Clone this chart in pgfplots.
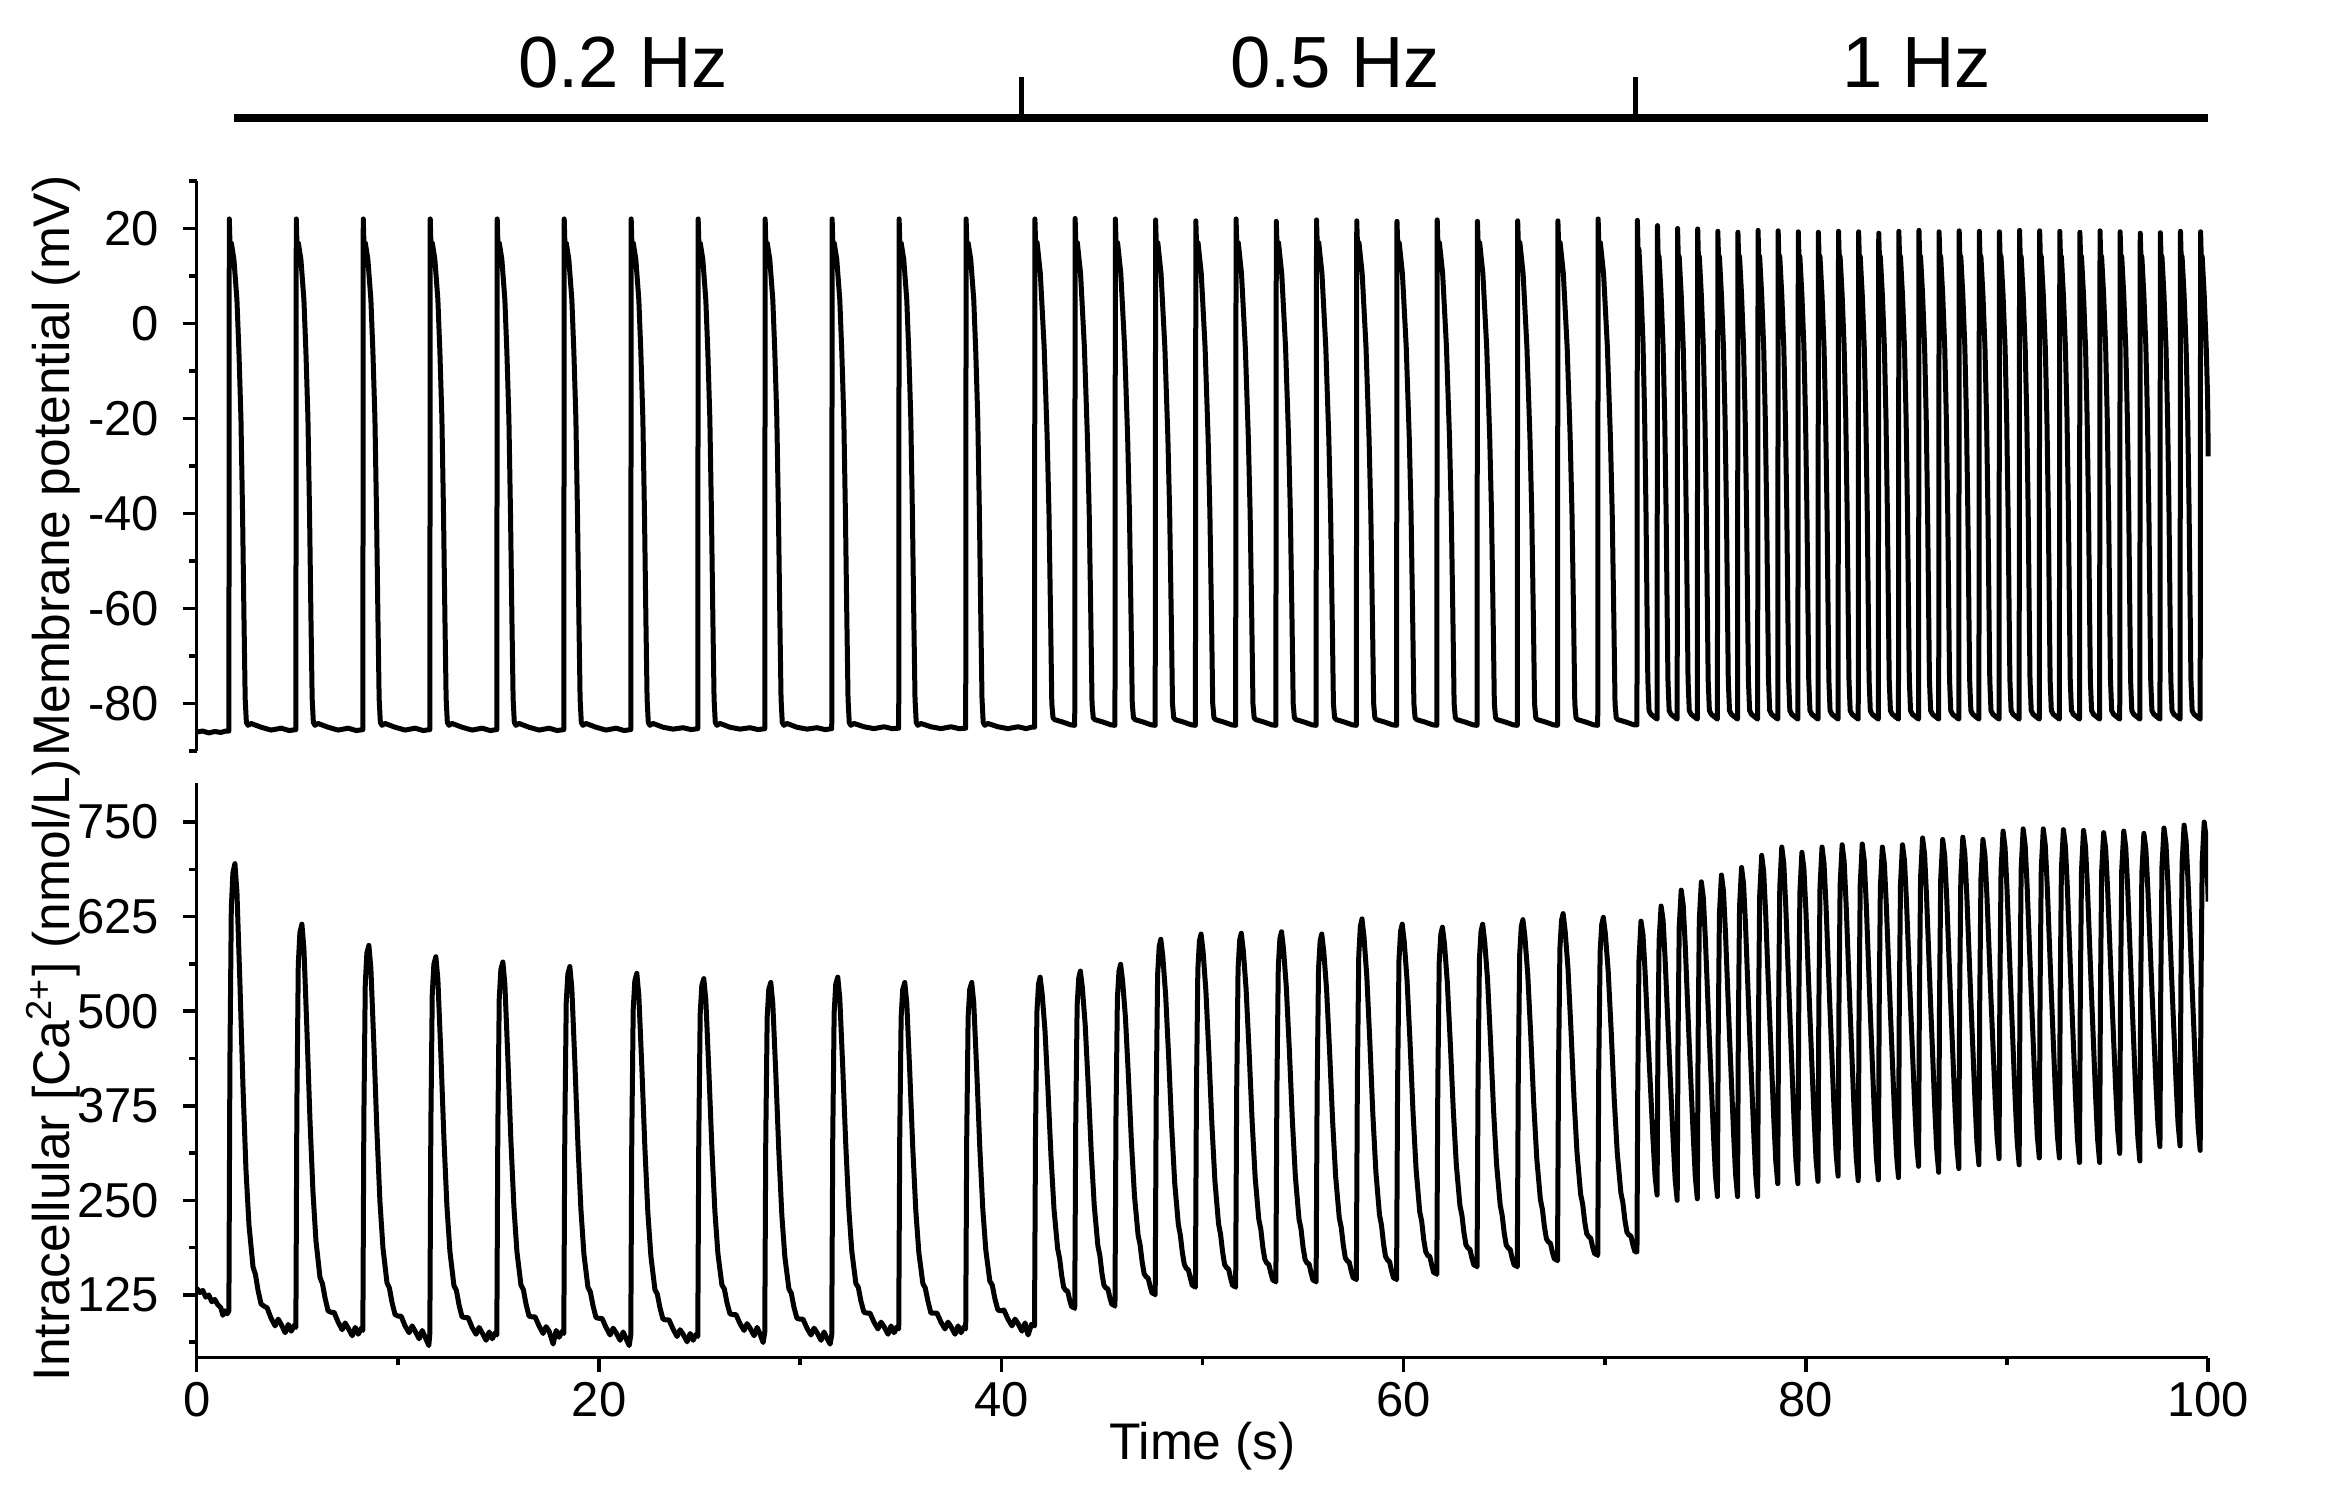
\documentclass[border=0pt]{standalone}
\usepackage{fontspec}
\setmainfont{Liberation Sans}
\usepackage{pgfplots}
\pgfplotsset{compat=1.18}
\begin{document}
\begin{tikzpicture}
\useasboundingbox (-39.34pt,-29.86pt) rectangle (430.46pt,271.54pt);
\pgfplotsset{
  myaxis/.style={
    scale only axis, width=402.3pt, xmin=0, xmax=100,
    axis y line*=left,
    tick align=outside, major tick length=2.8pt, minor tick length=1.5pt,
    tick style={black, line width=0.7pt},
    axis line style={line width=0.7pt, black},
    ticklabel style={font=\fontsize{9.8}{11}\selectfont},
    /pgf/number format/assume math mode=true,
    label style={font=\fontsize{10.3}{12}\selectfont},
    ylabel style={at={(axis description cs:-0.063,0.5)}, anchor=base},
    yticklabel style={inner sep=0pt, anchor=east, xshift=-4.5pt},
  }
}
% ---------------- bottom: calcium ----------------
\begin{axis}[myaxis, name=bot, at={(0,0)}, anchor=south west, height=115pt,
  ymin=42, ymax=802,
  axis x line*=bottom,
  xtick={0,20,...,100}, minor xtick={10,30,...,90},
  ytick={125,250,375,500,625,750}, minor ytick={62.5,187.5,312.5,437.5,562.5,687.5},
  xticklabel style={inner sep=0pt, anchor=north, yshift=-1.86pt},
  xlabel={Time (s)},
  xlabel style={at={(axis description cs:0.5,-0.1765)}, anchor=base},
  ylabel={Intracellular [Ca\textsuperscript{2+}] (nmol/L)},
]
\addplot[black, line width=1pt, line join=round] coordinates {
(0,134) (0.15,128) (0.3,131) (0.45,122) (0.6,125) (0.75,116) (0.9,119) (1.05,112) (1.2,108) (1.3,98) (1.4,104) (1.52,100)
(1.60,104) (1.65,430) (1.72,636) (1.80,683) (1.90,695) (2.00,658) (2.15,536) (2.30,401) (2.45,290) (2.60,217) (2.80,162) (2.92,152) (3.05,131) (3.20,113) (3.35,110) (3.50,108) (3.70,94) (3.90,84) (4.05,93) (4.20,86) (4.40,75) (4.55,86) (4.70,77) (4.85,85)
(4.93,82) (4.98,375) (5.05,562) (5.13,604) (5.23,615) (5.33,583) (5.48,475) (5.63,357) (5.78,261) (5.93,196) (6.13,148) (6.25,140) (6.38,121) (6.53,104) (6.68,102) (6.83,102) (7.03,89) (7.23,79) (7.38,88) (7.53,81) (7.73,71) (7.88,82) (8.03,73) (8.18,81)
(8.26,78) (8.31,358) (8.38,536) (8.46,577) (8.56,587) (8.66,556) (8.81,454) (8.96,341) (9.11,248) (9.26,187) (9.46,141) (9.58,134) (9.71,115) (9.86,99) (10.01,97) (10.16,97) (10.36,84) (10.56,75) (10.71,84) (10.86,77) (11.06,67) (11.21,78) (11.36,69) (11.54,58)
(11.59,74) (11.64,348) (11.71,522) (11.79,562) (11.89,572) (11.99,542) (12.14,442) (12.29,332) (12.44,242) (12.59,182) (12.79,137) (12.91,131) (13.04,112) (13.19,96) (13.34,95) (13.49,95) (13.69,82) (13.89,73) (14.04,82) (14.19,75) (14.39,65) (14.54,76) (14.69,67) (14.84,75)
(14.92,72) (14.97,343) (15.04,516) (15.12,555) (15.22,565) (15.32,536) (15.47,437) (15.62,329) (15.77,241) (15.92,182) (16.12,138) (16.24,132) (16.37,113) (16.52,97) (16.67,96) (16.82,96) (17.02,84) (17.22,74) (17.37,83) (17.52,77) (17.72,60) (17.87,78) (18.02,69) (18.17,77)
(18.25,74) (18.30,341) (18.37,511) (18.45,549) (18.55,559) (18.65,530) (18.80,432) (18.95,325) (19.10,238) (19.25,179) (19.45,135) (19.57,129) (19.70,111) (19.85,95) (20.00,94) (20.15,94) (20.35,82) (20.55,72) (20.70,81) (20.85,75) (21.05,65) (21.20,76) (21.35,67) (21.50,58)
(21.58,72) (21.63,335) (21.70,502) (21.78,540) (21.88,550) (21.98,521) (22.13,425) (22.28,320) (22.43,233) (22.58,176) (22.78,132) (22.90,126) (23.03,108) (23.18,93) (23.33,92) (23.48,92) (23.68,80) (23.88,70) (24.03,79) (24.18,73) (24.38,63) (24.53,74) (24.68,65) (24.83,73)
(24.91,70) (24.96,330) (25.03,496) (25.11,534) (25.21,543) (25.31,515) (25.46,422) (25.61,320) (25.76,236) (25.91,180) (26.11,138) (26.23,133) (26.36,115) (26.51,100) (26.66,99) (26.81,99) (27.01,87) (27.21,78) (27.36,87) (27.51,81) (27.71,71) (27.86,82) (28.01,73) (28.16,62)
(28.24,76) (28.29,330) (28.36,492) (28.44,529) (28.54,538) (28.64,510) (28.79,417) (28.94,314) (29.09,230) (29.24,175) (29.44,133) (29.56,127) (29.69,109) (29.84,94) (29.99,93) (30.14,93) (30.34,81) (30.54,72) (30.69,81) (30.84,75) (31.04,65) (31.19,76) (31.34,67) (31.49,60)
(31.57,72) (31.62,332) (31.69,498) (31.77,536) (31.87,545) (31.97,517) (32.12,424) (32.27,322) (32.42,238) (32.57,182) (32.77,140) (32.89,135) (33.02,117) (33.17,102) (33.32,101) (33.47,101) (33.67,89) (33.87,80) (34.02,89) (34.17,83) (34.37,73) (34.52,84) (34.67,75) (34.82,83)
(34.90,80) (34.95,332) (35.02,492) (35.10,529) (35.20,538) (35.30,511) (35.45,419) (35.60,318) (35.75,236) (35.90,181) (36.10,140) (36.22,134) (36.35,117) (36.50,101) (36.65,101) (36.80,101) (37.00,89) (37.20,80) (37.35,89) (37.50,83) (37.70,73) (37.85,84) (38.00,75) (38.15,83)
(38.23,80) (38.28,332) (38.35,492) (38.43,529) (38.53,538) (38.63,511) (38.78,420) (38.93,320) (39.08,238) (39.23,184) (39.43,143) (39.55,138) (39.68,120) (39.83,105) (39.98,104) (40.13,105) (40.33,93) (40.53,84) (40.68,93) (40.83,87) (41.03,77) (41.18,88) (41.33,72) (41.50,86)
(41.65,84) (41.70,338) (41.77,499) (41.85,536) (41.93,545) (42.03,523) (42.17,475) (42.32,396) (42.47,308) (42.62,238) (42.80,186) (42.90,173) (43.00,151) (43.10,135) (43.20,131) (43.30,130) (43.40,118) (43.50,109) (43.60,109)
(43.65,107) (43.70,352) (43.77,508) (43.85,544) (43.93,553) (44.03,531) (44.17,482) (44.32,402) (44.47,314) (44.62,243) (44.80,190) (44.90,177) (45.00,154) (45.10,138) (45.20,134) (45.30,133) (45.40,121) (45.50,112) (45.60,112)
(45.65,110) (45.70,359) (45.77,517) (45.85,553) (45.93,562) (46.03,540) (46.17,492) (46.32,413) (46.47,326) (46.62,256) (46.80,204) (46.90,191) (47.00,169) (47.10,153) (47.20,149) (47.30,147) (47.40,136) (47.50,127) (47.60,127)
(47.65,125) (47.70,384) (47.77,548) (47.85,586) (47.93,595) (48.03,572) (48.17,521) (48.32,439) (48.47,347) (48.62,273) (48.80,218) (48.90,204) (49.00,181) (49.10,165) (49.20,160) (49.30,158) (49.40,147) (49.50,137) (49.60,137)
(49.65,135) (49.70,392) (49.77,555) (49.85,593) (49.93,602) (50.03,579) (50.17,527) (50.32,443) (50.47,350) (50.62,275) (50.80,219) (50.90,205) (51.00,182) (51.10,165) (51.20,161) (51.30,159) (51.40,147) (51.50,137) (51.60,137)
(51.65,135) (51.70,392) (51.77,556) (51.85,594) (51.93,603) (52.03,580) (52.17,529) (52.32,446) (52.47,354) (52.62,280) (52.80,225) (52.90,212) (53.00,188) (53.10,172) (53.20,167) (53.30,165) (53.40,154) (53.50,144) (53.60,144)
(53.65,142) (53.70,397) (53.77,559) (53.85,596) (53.93,605) (54.03,582) (54.17,531) (54.32,448) (54.47,355) (54.62,281) (54.80,225) (54.90,212) (55.00,188) (55.10,172) (55.20,167) (55.30,166) (55.40,154) (55.50,144) (55.60,144)
(55.65,142) (55.70,395) (55.77,556) (55.85,593) (55.93,602) (56.03,579) (56.17,529) (56.32,447) (56.47,355) (56.62,282) (56.80,227) (56.90,214) (57.00,191) (57.10,174) (57.20,170) (57.30,168) (57.40,156) (57.50,147) (57.60,147)
(57.65,145) (57.70,407) (57.77,574) (57.85,612) (57.93,622) (58.03,598) (58.17,546) (58.32,460) (58.47,364) (58.62,288) (58.80,231) (58.90,217) (59.00,193) (59.10,176) (59.20,171) (59.30,169) (59.40,157) (59.50,147) (59.60,147)
(59.65,145) (59.70,404) (59.77,568) (59.85,606) (59.93,615) (60.03,592) (60.17,541) (60.32,458) (60.47,365) (60.62,291) (60.80,235) (60.90,222) (61.00,198) (61.10,182) (61.20,177) (61.30,176) (61.40,164) (61.50,154) (61.60,154)
(61.65,152) (61.70,404) (61.77,565) (61.85,602) (61.93,611) (62.03,589) (62.17,539) (62.32,458) (62.47,369) (62.62,297) (62.80,243) (62.90,230) (63.00,207) (63.10,191) (63.20,187) (63.30,185) (63.40,173) (63.50,164) (63.60,164)
(63.65,162) (63.70,411) (63.77,570) (63.85,606) (63.93,615) (64.03,592) (64.17,543) (64.32,461) (64.47,370) (64.62,298) (64.80,244) (64.90,230) (65.00,207) (65.10,191) (65.20,187) (65.30,185) (65.40,173) (65.50,164) (65.60,164)
(65.65,162) (65.70,414) (65.77,575) (65.85,612) (65.93,621) (66.03,598) (66.17,549) (66.32,468) (66.47,377) (66.62,305) (66.80,251) (66.90,238) (67.00,215) (67.10,199) (67.20,195) (67.30,193) (67.40,181) (67.50,172) (67.60,172)
(67.65,170) (67.70,422) (67.77,583) (67.85,620) (67.93,629) (68.03,606) (68.17,557) (68.32,475) (68.47,385) (68.62,313) (68.80,258) (68.90,245) (69.00,222) (69.10,206) (69.20,202) (69.30,200) (69.40,188) (69.50,179) (69.60,179)
(69.65,177) (69.70,423) (69.77,579) (69.85,615) (69.93,624) (70.03,602) (70.17,553) (70.32,473) (70.47,384) (70.62,313) (70.80,260) (70.90,247) (71.00,224) (71.10,208) (71.20,204) (71.30,203) (71.40,191) (71.50,182) (71.55,182)
(71.60,182) (71.64,401) (71.70,567) (71.80,619) (71.90,601) (72.00,554) (72.10,496) (72.20,438) (72.30,384) (72.40,329) (72.50,282)
(72.60,257) (72.64,448) (72.70,593) (72.80,639) (72.90,620) (73.00,569) (73.10,507) (73.20,445) (73.30,386) (73.40,328) (73.50,277)
(73.60,250) (73.64,455) (73.70,611) (73.80,660) (73.90,640) (74.00,587) (74.10,521) (74.20,456) (74.30,395) (74.40,334) (74.50,281)
(74.60,252) (74.64,462) (74.70,621) (74.80,671) (74.90,650) (75.00,596) (75.10,530) (75.20,463) (75.30,401) (75.40,338) (75.50,284)
(75.60,255) (75.64,468) (75.70,629) (75.80,680) (75.90,659) (76.00,604) (76.10,536) (76.20,468) (76.30,404) (76.40,340) (76.50,285)
(76.60,255) (76.64,473) (76.70,638) (76.80,690) (76.90,668) (77.00,612) (77.10,542) (77.20,473) (77.30,407) (77.40,342) (77.50,285)
(77.60,255) (77.64,481) (77.70,652) (77.80,706) (77.90,684) (78.00,628) (78.10,558) (78.20,489) (78.30,424) (78.40,359) (78.50,302)
(78.60,272) (78.64,495) (78.70,664) (78.80,717) (78.90,695) (79.00,637) (79.10,566) (79.20,495) (79.30,428) (79.40,361) (79.50,303)
(79.60,272) (79.64,491) (79.70,657) (79.80,710) (79.90,688) (80.00,632) (80.10,562) (80.20,493) (80.30,427) (80.40,362) (80.50,305)
(80.60,275) (80.64,496) (80.70,664) (80.80,717) (80.90,695) (81.00,639) (81.10,569) (81.20,500) (81.30,434) (81.40,369) (81.50,312)
(81.60,282) (81.64,501) (81.70,667) (81.80,720) (81.90,698) (82.00,640) (82.10,569) (82.20,498) (82.30,431) (82.40,365) (82.50,307)
(82.60,276) (82.64,499) (82.70,668) (82.80,721) (82.90,699) (83.00,641) (83.10,570) (83.20,499) (83.30,432) (83.40,366) (83.50,308)
(83.60,277) (83.64,497) (83.70,664) (83.80,717) (83.90,695) (84.00,638) (84.10,568) (84.20,499) (84.30,433) (84.40,367) (84.50,311)
(84.60,280) (84.64,500) (84.70,667) (84.80,720) (84.90,699) (85.00,644) (85.10,576) (85.20,508) (85.30,444) (85.40,380) (85.50,325)
(85.60,295) (85.64,512) (85.70,677) (85.80,729) (85.90,707) (86.00,649) (86.10,579) (86.20,508) (86.30,442) (86.40,375) (86.50,318)
(86.60,287) (86.64,507) (86.70,674) (86.80,727) (86.90,705) (87.00,649) (87.10,579) (87.20,510) (87.30,444) (87.40,379) (87.50,322)
(87.60,292) (87.64,511) (87.70,677) (87.80,730) (87.90,708) (88.00,652) (88.10,583) (88.20,514) (88.30,449) (88.40,384) (88.50,327)
(88.60,297) (88.64,512) (88.70,675) (88.80,727) (88.90,706) (89.00,651) (89.10,584) (89.20,516) (89.30,453) (89.40,389) (89.50,335)
(89.60,305) (89.64,522) (89.70,686) (89.80,738) (89.90,716) (90.00,659) (90.10,588) (90.20,518) (90.30,451) (90.40,385) (90.50,328)
(90.60,297) (90.64,519) (90.70,688) (90.80,741) (90.90,719) (91.00,663) (91.10,593) (91.20,524) (91.30,458) (91.40,393) (91.50,336)
(91.60,306) (91.64,524) (91.70,689) (91.80,741) (91.90,719) (92.00,663) (92.10,593) (92.20,524) (92.30,458) (92.40,393) (92.50,336)
(92.60,306) (92.64,523) (92.70,688) (92.80,740) (92.90,718) (93.00,661) (93.10,590) (93.20,520) (93.30,454) (93.40,388) (93.50,331)
(93.60,300) (93.64,520) (93.70,686) (93.80,739) (93.90,717) (94.00,660) (94.10,590) (94.20,520) (94.30,454) (94.40,388) (94.50,331)
(94.60,300) (94.64,518) (94.70,684) (94.80,736) (94.90,715) (95.00,660) (95.10,592) (95.20,524) (95.30,460) (95.40,397) (95.50,342)
(95.60,312) (95.64,525) (95.70,687) (95.80,738) (95.90,716) (96.00,660) (96.10,590) (96.20,520) (96.30,455) (96.40,389) (96.50,333)
(96.60,302) (96.64,519) (96.70,683) (96.80,735) (96.90,714) (97.00,660) (97.10,594) (97.20,528) (97.30,466) (97.40,404) (97.50,350)
(97.60,321) (97.64,532) (97.70,691) (97.80,742) (97.90,721) (98.00,666) (98.10,599) (98.20,532) (98.30,469) (98.40,406) (98.50,351)
(98.60,322) (98.64,534) (98.70,695) (98.80,746) (98.90,725) (99.00,669) (99.10,600) (99.20,531) (99.30,467) (99.40,402) (99.50,346)
(99.60,316) (99.64,533) (99.70,698) (99.80,750) (99.90,728) (100.00,645)
};
\end{axis}
% ---------------- top: membrane potential ----------------
\begin{axis}[myaxis, name=top, at={(0,121.34pt)}, anchor=south west, height=114pt,
  ymin=-90, ymax=30, clip=false,
  axis x line=none,
  ytick={-80,-60,-40,-20,0,20}, minor ytick={-90,-70,-50,-30,-10,10,30},
  ylabel={Membrane potential (mV)},
]
\addplot[black, line width=1pt, line join=round] coordinates {
(0,-86) (0.3,-85.8) (0.6,-86.2) (0.9,-85.9) (1.2,-86.1) (1.45,-85.8)
(1.60,-85.8) (1.62,22) (1.66,16) (1.72,17) (1.85,13.5) (2.00,5) (2.10,-6) (2.20,-20) (2.28,-40) (2.35,-62) (2.41,-79) (2.47,-84) (2.55,-84.6) (2.70,-84.2) (3.20,-85) (3.70,-85.6) (4.20,-85.2) (4.60,-85.7)
(4.93,-85.5) (4.95,22) (4.99,16) (5.05,17) (5.18,13.5) (5.33,5) (5.43,-6) (5.53,-20) (5.61,-40) (5.68,-62) (5.74,-79) (5.80,-84) (5.88,-84.6) (6.03,-84.2) (6.53,-85) (7.03,-85.6) (7.53,-85.2) (7.93,-85.7)
(8.26,-85.5) (8.28,22) (8.32,16) (8.38,17) (8.51,13.5) (8.66,5) (8.76,-6) (8.86,-20) (8.94,-40) (9.01,-62) (9.07,-79) (9.13,-84) (9.21,-84.6) (9.36,-84.2) (9.86,-85) (10.36,-85.6) (10.86,-85.2) (11.26,-85.7)
(11.59,-85.5) (11.61,22) (11.65,16) (11.71,17) (11.84,13.5) (11.99,5) (12.09,-6) (12.19,-20) (12.27,-40) (12.34,-62) (12.40,-79) (12.46,-84) (12.54,-84.6) (12.69,-84.2) (13.19,-85) (13.69,-85.6) (14.19,-85.2) (14.59,-85.7)
(14.92,-85.5) (14.94,22) (14.98,16) (15.04,17) (15.17,13.5) (15.32,5) (15.42,-6) (15.52,-20) (15.60,-40) (15.67,-62) (15.73,-79) (15.79,-84) (15.87,-84.6) (16.02,-84.2) (16.52,-85) (17.02,-85.6) (17.52,-85.2) (17.92,-85.7)
(18.25,-85.5) (18.27,22) (18.31,16) (18.37,17) (18.50,13.5) (18.65,5) (18.75,-6) (18.85,-20) (18.93,-40) (19.00,-62) (19.06,-79) (19.12,-84) (19.20,-84.6) (19.35,-84.2) (19.85,-85) (20.35,-85.6) (20.85,-85.2) (21.25,-85.7)
(21.58,-85.5) (21.60,22) (21.64,16) (21.70,17) (21.83,13.5) (21.98,5) (22.08,-6) (22.18,-20) (22.26,-40) (22.33,-62) (22.39,-79) (22.45,-84) (22.53,-84.6) (22.68,-84.2) (23.18,-85) (23.68,-85.4) (24.18,-85.1) (24.58,-85.5)
(24.91,-85.3) (24.93,22) (24.97,16) (25.03,17) (25.16,13.5) (25.31,5) (25.41,-6) (25.51,-20) (25.59,-40) (25.66,-62) (25.72,-79) (25.78,-84) (25.86,-84.6) (26.01,-84.2) (26.51,-85) (27.01,-85.4) (27.51,-85.1) (27.91,-85.5)
(28.24,-85.3) (28.26,22) (28.30,16) (28.36,17) (28.49,13.5) (28.64,5) (28.74,-6) (28.84,-20) (28.92,-40) (28.99,-62) (29.05,-79) (29.11,-84) (29.19,-84.6) (29.34,-84.2) (29.84,-85) (30.34,-85.4) (30.84,-85.1) (31.24,-85.5)
(31.57,-85.3) (31.59,22) (31.63,16) (31.69,17) (31.82,13.5) (31.97,5) (32.07,-6) (32.17,-20) (32.25,-40) (32.32,-62) (32.38,-79) (32.44,-84) (32.52,-84.6) (32.67,-84.2) (33.17,-84.9) (33.67,-85.3) (34.17,-84.9) (34.57,-85.3)
(34.90,-85.2) (34.92,22) (34.96,16) (35.02,17) (35.15,13.5) (35.30,5) (35.40,-6) (35.50,-20) (35.58,-40) (35.65,-62) (35.71,-79) (35.77,-84) (35.85,-84.6) (36.00,-84.2) (36.50,-84.9) (37.00,-85.3) (37.50,-84.9) (37.90,-85.3)
(38.23,-85.2) (38.25,22) (38.29,16) (38.35,17) (38.48,13.5) (38.63,5) (38.73,-6) (38.83,-20) (38.91,-40) (38.98,-62) (39.04,-79) (39.10,-84) (39.18,-84.6) (39.33,-84.2) (39.83,-84.9) (40.33,-85.3) (40.83,-84.9) (41.23,-85.3) (41.50,-85.0)
(41.65,-85.0) (41.67,22.0) (41.71,16) (41.78,17) (41.94,10.5) (42.13,-5) (42.28,-24) (42.37,-40) (42.45,-62) (42.51,-80) (42.57,-83) (42.65,-83.4) (43.05,-83.9) (43.45,-84.5)
(43.65,-84.6) (43.67,22.1) (43.71,16) (43.78,17) (43.94,10.5) (44.13,-5) (44.28,-24) (44.37,-40) (44.45,-62) (44.51,-80) (44.57,-83) (44.65,-83.4) (45.05,-83.9) (45.45,-84.5)
(45.65,-84.6) (45.67,22.0) (45.71,16) (45.78,17) (45.94,10.5) (46.13,-5) (46.28,-24) (46.37,-40) (46.45,-62) (46.51,-80) (46.57,-83) (46.65,-83.4) (47.05,-83.9) (47.45,-84.5)
(47.65,-84.6) (47.67,21.8) (47.71,16) (47.78,17) (47.94,10.5) (48.13,-5) (48.28,-24) (48.37,-40) (48.45,-62) (48.51,-80) (48.57,-83) (48.65,-83.4) (49.05,-83.9) (49.45,-84.5)
(49.65,-84.6) (49.67,21.6) (49.71,16) (49.78,17) (49.94,10.5) (50.13,-5) (50.28,-24) (50.37,-40) (50.45,-62) (50.51,-80) (50.57,-83) (50.65,-83.4) (51.05,-83.9) (51.45,-84.5)
(51.65,-84.6) (51.67,22.0) (51.71,16) (51.78,17) (51.94,10.5) (52.13,-5) (52.28,-24) (52.37,-40) (52.45,-62) (52.51,-80) (52.57,-83) (52.65,-83.4) (53.05,-83.9) (53.45,-84.5)
(53.65,-84.6) (53.67,21.5) (53.71,16) (53.78,17) (53.94,10.5) (54.13,-5) (54.28,-24) (54.37,-40) (54.45,-62) (54.51,-80) (54.57,-83) (54.65,-83.4) (55.05,-83.9) (55.45,-84.5)
(55.65,-84.6) (55.67,21.8) (55.71,16) (55.78,17) (55.94,10.5) (56.13,-5) (56.28,-24) (56.37,-40) (56.45,-62) (56.51,-80) (56.57,-83) (56.65,-83.4) (57.05,-83.9) (57.45,-84.5)
(57.65,-84.6) (57.67,21.6) (57.71,16) (57.78,17) (57.94,10.5) (58.13,-5) (58.28,-24) (58.37,-40) (58.45,-62) (58.51,-80) (58.57,-83) (58.65,-83.4) (59.05,-83.9) (59.45,-84.5)
(59.65,-84.6) (59.67,21.5) (59.71,16) (59.78,17) (59.94,10.5) (60.13,-5) (60.28,-24) (60.37,-40) (60.45,-62) (60.51,-80) (60.57,-83) (60.65,-83.4) (61.05,-83.9) (61.45,-84.5)
(61.65,-84.6) (61.67,21.8) (61.71,16) (61.78,17) (61.94,10.5) (62.13,-5) (62.28,-24) (62.37,-40) (62.45,-62) (62.51,-80) (62.57,-83) (62.65,-83.4) (63.05,-83.9) (63.45,-84.5)
(63.65,-84.6) (63.67,21.5) (63.71,16) (63.78,17) (63.94,10.5) (64.13,-5) (64.28,-24) (64.37,-40) (64.45,-62) (64.51,-80) (64.57,-83) (64.65,-83.4) (65.05,-83.9) (65.45,-84.5)
(65.65,-84.6) (65.67,21.6) (65.71,16) (65.78,17) (65.94,10.5) (66.13,-5) (66.28,-24) (66.37,-40) (66.45,-62) (66.51,-80) (66.57,-83) (66.65,-83.4) (67.05,-83.9) (67.45,-84.5)
(67.65,-84.6) (67.67,21.6) (67.71,16) (67.78,17) (67.94,10.5) (68.13,-5) (68.28,-24) (68.37,-40) (68.45,-62) (68.51,-80) (68.57,-83) (68.65,-83.4) (69.05,-83.9) (69.45,-84.5)
(69.65,-84.6) (69.67,22.0) (69.71,16) (69.78,17) (69.94,10.5) (70.13,-5) (70.28,-24) (70.37,-40) (70.45,-62) (70.51,-80) (70.57,-83) (70.65,-83.4) (71.05,-83.9) (71.45,-84.5)
(71.60,-84.5) (71.62,21.7) (71.65,16) (71.70,15.5) (71.80,7) (71.90,-4) (71.98,-19) (72.05,-40) (72.10,-60) (72.14,-75) (72.20,-81.5) (72.30,-82.3) (72.45,-82.8)
(72.60,-83.3) (72.62,20.6) (72.65,14.5) (72.70,14) (72.80,6) (72.90,-5) (72.98,-20) (73.05,-40) (73.10,-60) (73.14,-75) (73.20,-81.5) (73.30,-82.3) (73.45,-82.8)
(73.60,-83.3) (73.62,20.0) (73.65,14.5) (73.70,14) (73.80,6) (73.90,-5) (73.98,-20) (74.05,-40) (74.10,-60) (74.14,-75) (74.20,-81.5) (74.30,-82.3) (74.45,-82.8)
(74.60,-83.3) (74.62,19.9) (74.65,14.5) (74.70,14) (74.80,6) (74.90,-5) (74.98,-20) (75.05,-40) (75.10,-60) (75.14,-75) (75.20,-81.5) (75.30,-82.3) (75.45,-82.8)
(75.60,-83.3) (75.62,19.4) (75.65,14.5) (75.70,14) (75.80,6) (75.90,-5) (75.98,-20) (76.05,-40) (76.10,-60) (76.14,-75) (76.20,-81.5) (76.30,-82.3) (76.45,-82.8)
(76.60,-83.3) (76.62,19.2) (76.65,14.5) (76.70,14) (76.80,6) (76.90,-5) (76.98,-20) (77.05,-40) (77.10,-60) (77.14,-75) (77.20,-81.5) (77.30,-82.3) (77.45,-82.8)
(77.60,-83.3) (77.62,19.6) (77.65,14.5) (77.70,14) (77.80,6) (77.90,-5) (77.98,-20) (78.05,-40) (78.10,-60) (78.14,-75) (78.20,-81.5) (78.30,-82.3) (78.45,-82.8)
(78.60,-83.3) (78.62,19.5) (78.65,14.5) (78.70,14) (78.80,6) (78.90,-5) (78.98,-20) (79.05,-40) (79.10,-60) (79.14,-75) (79.20,-81.5) (79.30,-82.3) (79.45,-82.8)
(79.60,-83.3) (79.62,19.3) (79.65,14.5) (79.70,14) (79.80,6) (79.90,-5) (79.98,-20) (80.05,-40) (80.10,-60) (80.14,-75) (80.20,-81.5) (80.30,-82.3) (80.45,-82.8)
(80.60,-83.3) (80.62,19.2) (80.65,14.5) (80.70,14) (80.80,6) (80.90,-5) (80.98,-20) (81.05,-40) (81.10,-60) (81.14,-75) (81.20,-81.5) (81.30,-82.3) (81.45,-82.8)
(81.60,-83.3) (81.62,19.4) (81.65,14.5) (81.70,14) (81.80,6) (81.90,-5) (81.98,-20) (82.05,-40) (82.10,-60) (82.14,-75) (82.20,-81.5) (82.30,-82.3) (82.45,-82.8)
(82.60,-83.3) (82.62,19.3) (82.65,14.5) (82.70,14) (82.80,6) (82.90,-5) (82.98,-20) (83.05,-40) (83.10,-60) (83.14,-75) (83.20,-81.5) (83.30,-82.3) (83.45,-82.8)
(83.60,-83.3) (83.62,19.0) (83.65,14.5) (83.70,14) (83.80,6) (83.90,-5) (83.98,-20) (84.05,-40) (84.10,-60) (84.14,-75) (84.20,-81.5) (84.30,-82.3) (84.45,-82.8)
(84.60,-83.3) (84.62,19.4) (84.65,14.5) (84.70,14) (84.80,6) (84.90,-5) (84.98,-20) (85.05,-40) (85.10,-60) (85.14,-75) (85.20,-81.5) (85.30,-82.3) (85.45,-82.8)
(85.60,-83.3) (85.62,19.6) (85.65,14.5) (85.70,14) (85.80,6) (85.90,-5) (85.98,-20) (86.05,-40) (86.10,-60) (86.14,-75) (86.20,-81.5) (86.30,-82.3) (86.45,-82.8)
(86.60,-83.3) (86.62,19.3) (86.65,14.5) (86.70,14) (86.80,6) (86.90,-5) (86.98,-20) (87.05,-40) (87.10,-60) (87.14,-75) (87.20,-81.5) (87.30,-82.3) (87.45,-82.8)
(87.60,-83.3) (87.62,19.5) (87.65,14.5) (87.70,14) (87.80,6) (87.90,-5) (87.98,-20) (88.05,-40) (88.10,-60) (88.14,-75) (88.20,-81.5) (88.30,-82.3) (88.45,-82.8)
(88.60,-83.3) (88.62,19.4) (88.65,14.5) (88.70,14) (88.80,6) (88.90,-5) (88.98,-20) (89.05,-40) (89.10,-60) (89.14,-75) (89.20,-81.5) (89.30,-82.3) (89.45,-82.8)
(89.60,-83.3) (89.62,19.3) (89.65,14.5) (89.70,14) (89.80,6) (89.90,-5) (89.98,-20) (90.05,-40) (90.10,-60) (90.14,-75) (90.20,-81.5) (90.30,-82.3) (90.45,-82.8)
(90.60,-83.3) (90.62,19.6) (90.65,14.5) (90.70,14) (90.80,6) (90.90,-5) (90.98,-20) (91.05,-40) (91.10,-60) (91.14,-75) (91.20,-81.5) (91.30,-82.3) (91.45,-82.8)
(91.60,-83.3) (91.62,19.5) (91.65,14.5) (91.70,14) (91.80,6) (91.90,-5) (91.98,-20) (92.05,-40) (92.10,-60) (92.14,-75) (92.20,-81.5) (92.30,-82.3) (92.45,-82.8)
(92.60,-83.3) (92.62,19.4) (92.65,14.5) (92.70,14) (92.80,6) (92.90,-5) (92.98,-20) (93.05,-40) (93.10,-60) (93.14,-75) (93.20,-81.5) (93.30,-82.3) (93.45,-82.8)
(93.60,-83.3) (93.62,19.2) (93.65,14.5) (93.70,14) (93.80,6) (93.90,-5) (93.98,-20) (94.05,-40) (94.10,-60) (94.14,-75) (94.20,-81.5) (94.30,-82.3) (94.45,-82.8)
(94.60,-83.3) (94.62,19.5) (94.65,14.5) (94.70,14) (94.80,6) (94.90,-5) (94.98,-20) (95.05,-40) (95.10,-60) (95.14,-75) (95.20,-81.5) (95.30,-82.3) (95.45,-82.8)
(95.60,-83.3) (95.62,19.3) (95.65,14.5) (95.70,14) (95.80,6) (95.90,-5) (95.98,-20) (96.05,-40) (96.10,-60) (96.14,-75) (96.20,-81.5) (96.30,-82.3) (96.45,-82.8)
(96.60,-83.3) (96.62,19.0) (96.65,14.5) (96.70,14) (96.80,6) (96.90,-5) (96.98,-20) (97.05,-40) (97.10,-60) (97.14,-75) (97.20,-81.5) (97.30,-82.3) (97.45,-82.8)
(97.60,-83.3) (97.62,19.1) (97.65,14.5) (97.70,14) (97.80,6) (97.90,-5) (97.98,-20) (98.05,-40) (98.10,-60) (98.14,-75) (98.20,-81.5) (98.30,-82.3) (98.45,-82.8)
(98.60,-83.3) (98.62,19.4) (98.65,14.5) (98.70,14) (98.80,6) (98.90,-5) (98.98,-20) (99.05,-40) (99.10,-60) (99.14,-75) (99.20,-81.5) (99.30,-82.3) (99.45,-82.8)
(99.60,-83.3) (99.62,19.3) (99.65,14.5) (99.70,14) (99.80,6) (99.90,-5) (99.97,-16) (100.00,-28)
};
% stimulation-frequency bracket
\draw[line width=1.5pt] (axis cs:1.86,43.26) -- (axis cs:100,43.26);
\draw[line width=1pt] (axis cs:40.98,43.26) -- (axis cs:40.98,51.9);
\draw[line width=1pt] (axis cs:71.53,43.26) -- (axis cs:71.53,51.9);
\node[anchor=base, inner sep=0pt, font=\fontsize{14.5}{17}\selectfont] at (axis cs:21.2,49.58) {0.2 Hz};
\node[anchor=base, inner sep=0pt, font=\fontsize{14.5}{17}\selectfont] at (axis cs:56.6,49.58) {0.5 Hz};
\node[anchor=base, inner sep=0pt, font=\fontsize{14.5}{17}\selectfont] at (axis cs:85.5,49.58) {1 Hz};
\end{axis}
\end{tikzpicture}
\end{document}
